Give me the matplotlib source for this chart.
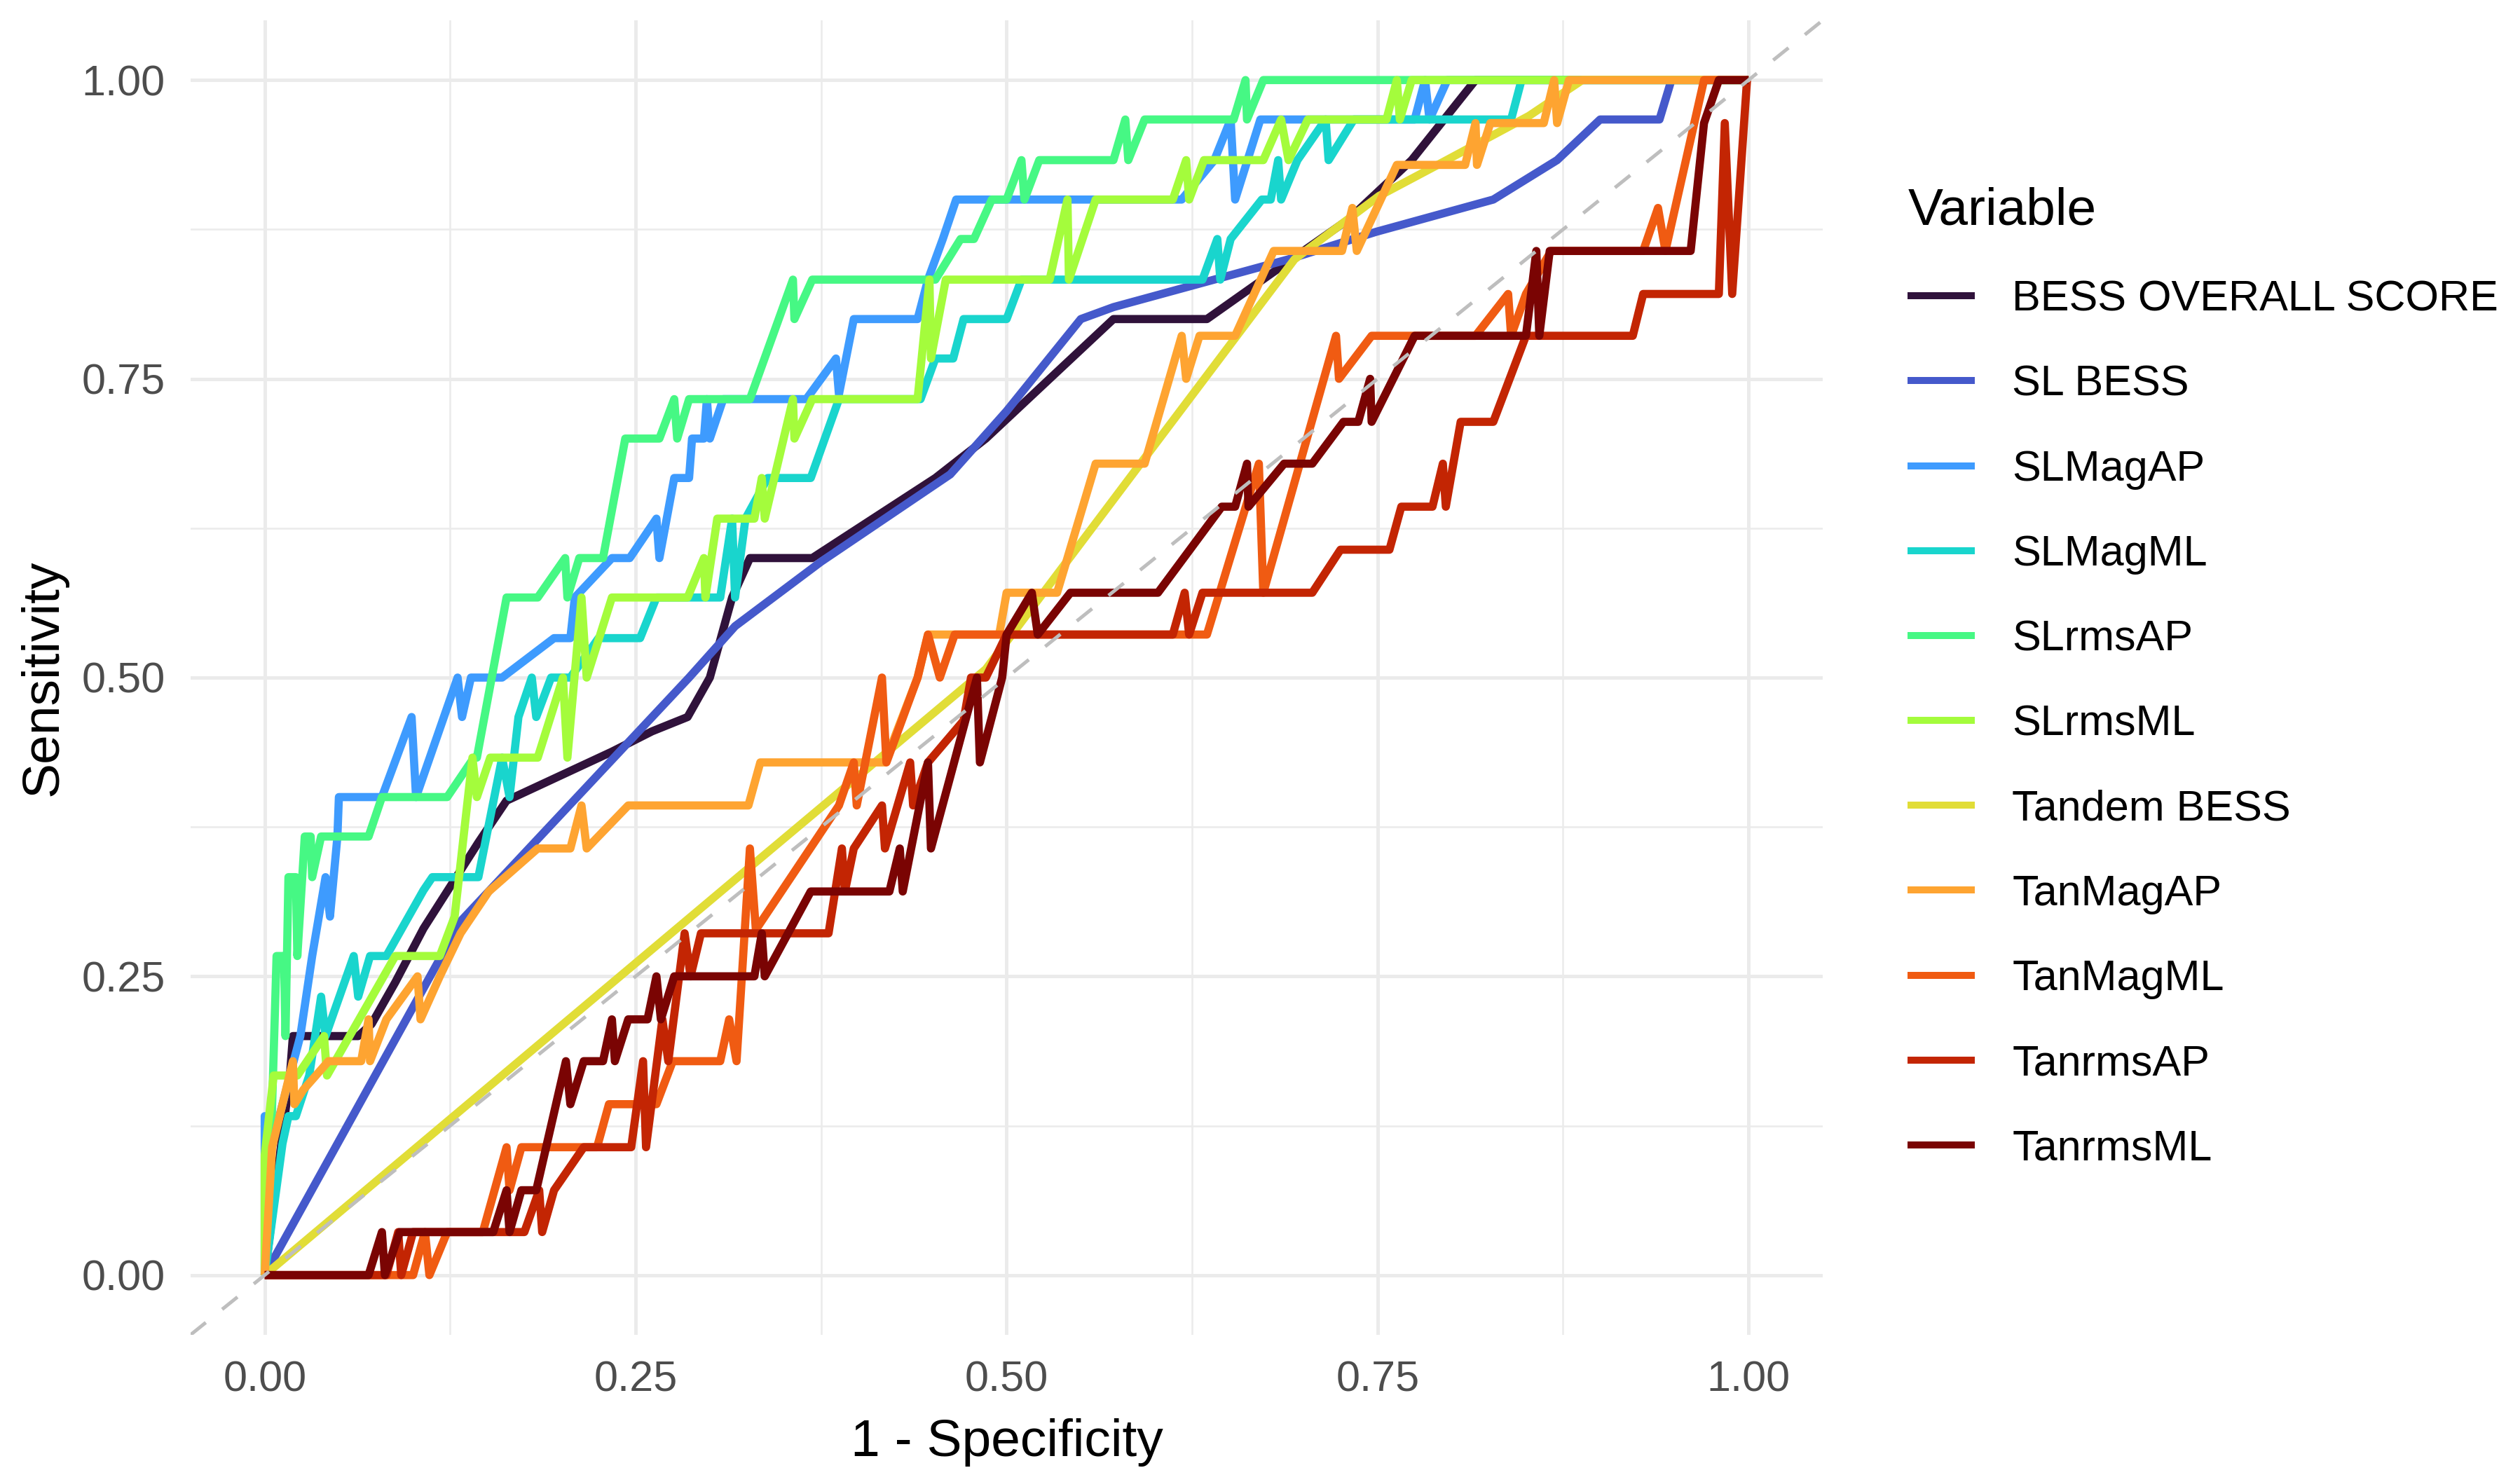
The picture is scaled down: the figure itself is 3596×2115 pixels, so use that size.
import numpy as np
import matplotlib
matplotlib.use("Agg")
import matplotlib.pyplot as plt

plt.rcParams['font.family'] = ['Liberation Sans', 'DejaVu Sans']

# ROC curves (1 - specificity, sensitivity)
bess_overall_fpr = [0, 0.017, 0.019, 0.063, 0.072, 0.088, 0.107, 0.144, 0.163, 0.234, 0.261, 0.285, 0.300,
                    0.315, 0.327, 0.369, 0.452, 0.486, 0.572, 0.635, 0.692, 0.730, 0.773, 0.816, 1.0]
bess_overall_tpr = [0, 0.167, 0.2, 0.2, 0.21, 0.245, 0.29, 0.362, 0.397, 0.438, 0.455, 0.467, 0.5,
                    0.567, 0.6, 0.6, 0.667, 0.7, 0.8, 0.8, 0.85, 0.883, 0.933, 1.0, 1.0]

sl_bess_fpr = [0, 0.132, 0.286, 0.317, 0.375, 0.462, 0.5, 0.55, 0.572, 0.69, 0.749, 0.828, 0.871, 0.9, 0.94, 0.948, 1.0]
sl_bess_tpr = [0, 0.296, 0.5, 0.543, 0.597, 0.67, 0.723, 0.8, 0.81, 0.85, 0.873, 0.9, 0.933, 0.967, 0.967, 1.0, 1.0]

slmagap_fpr = [0, 0, 0.003, 0.017, 0.024, 0.032, 0.041, 0.044, 0.049, 0.05, 0.079, 0.099, 0.102, 0.13, 0.133,
               0.139, 0.16, 0.195, 0.206, 0.209, 0.234, 0.246, 0.264, 0.266, 0.276, 0.286, 0.288, 0.296, 0.298,
               0.3, 0.309, 0.365, 0.385, 0.387, 0.397, 0.44, 0.447, 0.457, 0.466, 0.618, 0.64, 0.651, 0.654,
               0.671, 0.775, 0.782, 0.785, 0.797, 1.0]
slmagap_tpr = [0, 0.133, 0.1, 0.167, 0.2, 0.267, 0.333, 0.3, 0.367, 0.4, 0.4, 0.467, 0.4, 0.5, 0.467,
               0.5, 0.5, 0.533, 0.533, 0.567, 0.6, 0.6, 0.633, 0.6, 0.667, 0.667, 0.7, 0.7, 0.733,
               0.7, 0.733, 0.733, 0.767, 0.737, 0.8, 0.8, 0.833, 0.867, 0.9, 0.9, 0.933, 0.967, 0.9,
               0.967, 0.967, 1.0, 0.967, 1.0, 1.0]

slmagml_fpr = [0, 0.012, 0.016, 0.021, 0.03, 0.038, 0.041, 0.06, 0.063, 0.071, 0.082, 0.107, 0.113, 0.144,
               0.16, 0.165, 0.171, 0.18, 0.183, 0.193, 0.206, 0.225, 0.253, 0.264, 0.307, 0.315, 0.317, 0.324,
               0.339, 0.368, 0.387, 0.442, 0.452, 0.464, 0.471, 0.5, 0.51, 0.632, 0.642, 0.644, 0.651, 0.672,
               0.678, 0.683, 0.685, 0.696, 0.715, 0.717, 0.734, 0.84, 0.847, 1.0]
slmagml_tpr = [0, 0.11, 0.133, 0.133, 0.167, 0.233, 0.2, 0.267, 0.233, 0.267, 0.267, 0.322, 0.333, 0.333,
               0.433, 0.4, 0.467, 0.5, 0.467, 0.5, 0.5, 0.533, 0.533, 0.567, 0.567, 0.633, 0.567, 0.633,
               0.667, 0.667, 0.733, 0.733, 0.767, 0.767, 0.8, 0.8, 0.833, 0.833, 0.867, 0.833, 0.867, 0.9,
               0.9, 0.933, 0.9, 0.933, 0.967, 0.933, 0.967, 0.967, 1.0, 1.0]

slrmsap_fpr = [0, 0.004, 0.008, 0.013, 0.014, 0.016, 0.021, 0.022, 0.027, 0.031, 0.032, 0.038, 0.07, 0.079,
               0.123, 0.141, 0.143, 0.163, 0.184, 0.2025, 0.204, 0.212, 0.228, 0.243, 0.266, 0.276, 0.278,
               0.286, 0.327, 0.356, 0.357, 0.369, 0.452, 0.469, 0.478, 0.49, 0.5, 0.51, 0.512, 0.522, 0.572,
               0.58, 0.582, 0.593, 0.653, 0.661, 0.662, 0.673, 1.0]
slrmsap_tpr = [0, 0.1, 0.267, 0.267, 0.2, 0.333, 0.333, 0.267, 0.367, 0.367, 0.333, 0.367, 0.367, 0.4,
               0.4, 0.433, 0.433, 0.567, 0.567, 0.6, 0.567, 0.6, 0.6, 0.7, 0.7, 0.733, 0.7,
               0.733, 0.733, 0.833, 0.8, 0.833, 0.833, 0.867, 0.867, 0.9, 0.9, 0.933, 0.9, 0.933, 0.933,
               0.967, 0.933, 0.967, 0.967, 1.0, 0.967, 1.0, 1.0]

slrmsml_fpr = [0, 0, 0.006, 0.022, 0.04, 0.042, 0.088, 0.118, 0.128, 0.14, 0.143, 0.152, 0.184, 0.201,
               0.204, 0.2135, 0.217, 0.234, 0.285, 0.296, 0.297, 0.305, 0.33, 0.335, 0.337, 0.356, 0.357,
               0.369, 0.44, 0.448, 0.449, 0.459, 0.529, 0.541, 0.542, 0.56, 0.612, 0.621, 0.623, 0.633,
               0.673, 0.685, 0.69, 0.703, 0.756, 0.763, 0.765, 0.773, 1.0]
slrmsml_tpr = [0, 0.1, 0.167, 0.167, 0.2, 0.167, 0.267, 0.267, 0.3, 0.433, 0.4, 0.433, 0.433, 0.5,
               0.433, 0.567, 0.5, 0.567, 0.567, 0.6, 0.567, 0.633, 0.633, 0.667, 0.633, 0.733, 0.7,
               0.733, 0.733, 0.833, 0.767, 0.833, 0.833, 0.9, 0.833, 0.9, 0.9, 0.933, 0.9, 0.933,
               0.933, 0.967, 0.933, 0.967, 0.967, 1.0, 0.967, 1.0, 1.0]

tandem_fpr = [0, 0.317, 0.486, 0.589, 0.694, 0.751, 0.792, 0.852, 0.888, 1.0]
tandem_tpr = [0, 0.331, 0.507, 0.677, 0.85, 0.903, 0.93, 0.97, 1.0, 1.0]

tanmagap_fpr = [0, 0.005, 0.019, 0.02, 0.026, 0.043, 0.065, 0.07, 0.071, 0.082, 0.103, 0.105, 0.118, 0.132,
                0.151, 0.184, 0.206, 0.2135, 0.217, 0.245, 0.326, 0.334, 0.418, 0.44, 0.447, 0.495, 0.5,
                0.534, 0.56, 0.593, 0.618, 0.621, 0.63, 0.654, 0.68, 0.726, 0.733, 0.736, 0.763, 0.809,
                0.816, 0.817, 0.826, 0.862, 0.869, 0.871, 0.879, 1.0]
tanmagap_tpr = [0, 0.107, 0.179, 0.143, 0.155, 0.179, 0.179, 0.214, 0.179, 0.214, 0.25, 0.214, 0.25, 0.286,
                0.321, 0.357, 0.357, 0.393, 0.357, 0.393, 0.393, 0.429, 0.429, 0.5, 0.536, 0.536, 0.571,
                0.571, 0.679, 0.679, 0.786, 0.75, 0.786, 0.786, 0.857, 0.857, 0.893, 0.857, 0.929, 0.929,
                0.964, 0.929, 0.964, 0.964, 1.0, 0.964, 1.0, 1.0]

tanmagml_fpr = [0, 0.1, 0.108, 0.111, 0.123, 0.147, 0.163, 0.165, 0.173, 0.224, 0.232, 0.264, 0.275, 0.307,
                0.313, 0.318, 0.327, 0.331, 0.387, 0.397, 0.399, 0.416, 0.419, 0.44, 0.447, 0.455, 0.465,
                0.635, 0.67, 0.673, 0.722, 0.724, 0.746, 0.816, 0.838, 0.84, 0.85, 0.867, 0.929, 0.939,
                0.944, 0.97, 1.0]
tanmagml_tpr = [0, 0, 0.036, 0, 0.036, 0.036, 0.107, 0.071, 0.107, 0.107, 0.143, 0.143, 0.179, 0.179,
                0.214, 0.179, 0.357, 0.289, 0.393, 0.429, 0.393, 0.5, 0.429, 0.5, 0.536, 0.5, 0.536,
                0.536, 0.679, 0.571, 0.786, 0.75, 0.786, 0.786, 0.821, 0.786, 0.821, 0.857, 0.857, 0.893,
                0.857, 1.0, 1.0]

tanrmsap_fpr = [0, 0.082, 0.09, 0.092, 0.1, 0.175, 0.185, 0.187, 0.195, 0.215, 0.247, 0.255, 0.257, 0.268,
                0.272, 0.283, 0.287, 0.294, 0.38, 0.389, 0.391, 0.397, 0.416, 0.418, 0.435, 0.437, 0.447,
                0.471, 0.476, 0.486, 0.5, 0.612, 0.62, 0.623, 0.632, 0.706, 0.725, 0.758, 0.766, 0.787,
                0.794, 0.796, 0.806, 0.828, 0.85, 0.922, 0.929, 0.98, 0.984, 0.989, 0.999, 1.0]
tanrmsap_tpr = [0, 0, 0.036, 0, 0.036, 0.036, 0.071, 0.036, 0.071, 0.107, 0.107, 0.179, 0.107, 0.214,
                0.179, 0.286, 0.25, 0.286, 0.286, 0.357, 0.321, 0.357, 0.393, 0.357, 0.429, 0.393, 0.429,
                0.464, 0.5, 0.5, 0.536, 0.536, 0.571, 0.536, 0.571, 0.571, 0.607, 0.607, 0.643, 0.643,
                0.679, 0.643, 0.714, 0.714, 0.786, 0.786, 0.821, 0.821, 0.964, 0.821, 1.0, 1.0]

tanrmsml_fpr = [0, 0.07, 0.079, 0.081, 0.091, 0.154, 0.163, 0.165, 0.173, 0.183, 0.203, 0.206, 0.215, 0.228,
                0.234, 0.236, 0.245, 0.258, 0.264, 0.267, 0.276, 0.33, 0.335, 0.337, 0.368, 0.421, 0.428,
                0.43, 0.447, 0.449, 0.48, 0.482, 0.497, 0.5, 0.517, 0.521, 0.543, 0.602, 0.645, 0.654,
                0.662, 0.663, 0.687, 0.706, 0.727, 0.737, 0.745, 0.746, 0.775, 0.85, 0.857, 0.859, 0.866,
                0.961, 0.97, 0.98, 1.0]
tanrmsml_tpr = [0, 0, 0.036, 0, 0.036, 0.036, 0.071, 0.036, 0.071, 0.071, 0.179, 0.143, 0.179, 0.179,
                0.214, 0.179, 0.214, 0.214, 0.25, 0.214, 0.25, 0.25, 0.286, 0.25, 0.321, 0.321, 0.357,
                0.321, 0.429, 0.357, 0.5, 0.429, 0.5, 0.536, 0.571, 0.536, 0.571, 0.571, 0.643, 0.643,
                0.679, 0.643, 0.679, 0.679, 0.714, 0.714, 0.75, 0.714, 0.786, 0.786, 0.857, 0.786, 0.857,
                0.857, 0.964, 1.0, 1.0]

variables = ["BESS OVERALL SCORE", "SL BESS", "SLMagAP", "SLMagML", "SLrmsAP", "SLrmsML",
             "Tandem BESS", "TanMagAP", "TanMagML", "TanrmsAP", "TanrmsML"]
curves = [(bess_overall_fpr, bess_overall_tpr), (sl_bess_fpr, sl_bess_tpr), (slmagap_fpr, slmagap_tpr),
          (slmagml_fpr, slmagml_tpr), (slrmsap_fpr, slrmsap_tpr), (slrmsml_fpr, slrmsml_tpr),
          (tandem_fpr, tandem_tpr), (tanmagap_fpr, tanmagap_tpr), (tanmagml_fpr, tanmagml_tpr),
          (tanrmsap_fpr, tanrmsap_tpr), (tanrmsml_fpr, tanrmsml_tpr)]

colors = plt.cm.turbo(np.linspace(0, 1, len(variables)))

fig = plt.figure(figsize=(17.98, 10.575), dpi=200)
ax = fig.add_axes([0.0756, 0.0993, 0.6477, 0.887])

handles = []
for name, (fpr, tpr), col in zip(variables, curves, colors):
    ln, = ax.plot(fpr, tpr, color=col, lw=4.2, solid_joinstyle='round', solid_capstyle='butt', label=name)
    handles.append(ln)

# chance line
ax.axline((0, 0), slope=1, color='#BEBEBE', lw=1.8, dashes=[5.6, 6.0], zorder=5)

ax.set_xlim(-0.05, 1.05)
ax.set_ylim(-0.05, 1.05)
ticks = [0, 0.25, 0.5, 0.75, 1.0]
ax.set_xticks(ticks)
ax.set_yticks(ticks)
ax.set_xticklabels([f"{t:.2f}" for t in ticks])
ax.set_yticklabels([f"{t:.2f}" for t in ticks])
ax.set_xticks([0.125, 0.375, 0.625, 0.875], minor=True)
ax.set_yticks([0.125, 0.375, 0.625, 0.875], minor=True)
ax.tick_params(which='both', length=0)
ax.tick_params(labelsize=22, labelcolor='#4D4D4D')
ax.tick_params(axis='x', pad=13)
ax.tick_params(axis='y', pad=13)
ax.grid(which='major', color='#EBEBEB', lw=1.8)
ax.grid(which='minor', color='#EBEBEB', lw=0.9)
ax.set_axisbelow(True)
for s in ax.spines.values():
    s.set_visible(False)

ax.set_xlabel("1 - Specificity", fontsize=27, va='center')
ax.set_ylabel("Sensitivity", fontsize=27, va='center')
ax.xaxis.set_label_coords(0.5, -0.082)
ax.yaxis.set_label_coords(-0.090, 0.5)

leg = fig.legend(handles=handles, labels=variables, loc='upper left', bbox_to_anchor=(0.757, 0.874),
                 frameon=False, title="Variable", fontsize=22, title_fontsize=27,
                 handlelength=1.57, handletextpad=0.87, labelspacing=1.05, borderpad=0,
                 borderaxespad=0, alignment='left')
for line in leg.get_lines():
    line.set_linewidth(3.6)

fig.savefig("out.png", dpi=200)
